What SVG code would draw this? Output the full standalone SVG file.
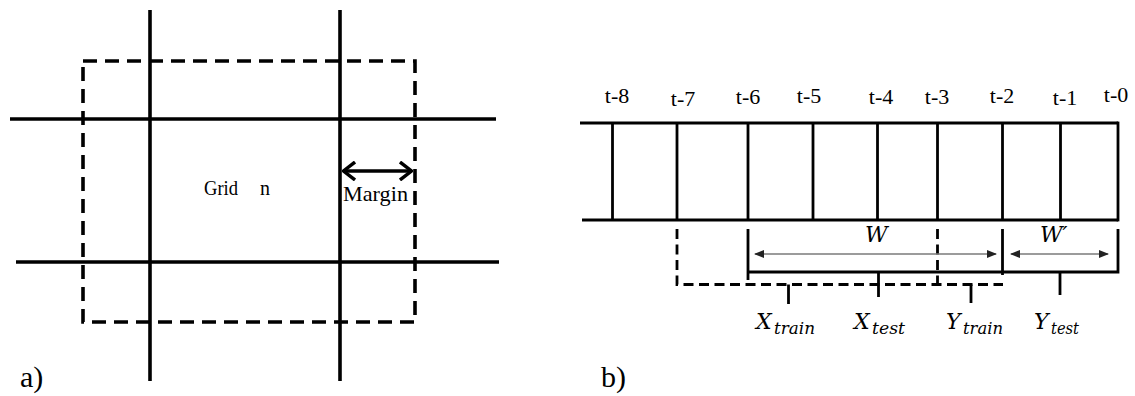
<svg xmlns="http://www.w3.org/2000/svg" width="1135" height="396" viewBox="0 0 1135 396">
<style>
.thick{stroke:#000;stroke-width:3.6;fill:none;stroke-linecap:butt}
.dash{stroke:#000;stroke-width:3.6;fill:none;stroke-dasharray:14 8}
.box{stroke:#000;stroke-width:2.8;fill:none}
.dash2{stroke:#000;stroke-width:2.8;fill:none;stroke-dasharray:10 5.5}
.gray{stroke:#7a7a7a;stroke-width:1.6;fill:none}
text{fill:#000}
</style>
<defs>
<marker id="chev" viewBox="0 0 14 20" refX="13" refY="10" markerWidth="14" markerHeight="20" markerUnits="userSpaceOnUse" orient="auto-start-reverse">
<polyline points="1,1 12.5,10 1,19" fill="none" stroke="#000" stroke-width="3.4"/>
</marker>
<marker id="tri" viewBox="0 0 10 8" refX="9" refY="4" markerWidth="10" markerHeight="8" markerUnits="userSpaceOnUse" orient="auto-start-reverse">
<path d="M0,0 L10,4 L0,8 Z" fill="#222"/>
</marker>
</defs>

<g id="panel-a">
<g id="grid-lines">
<line class="thick" x1="150" y1="10" x2="150" y2="381"/>
<line class="thick" x1="340" y1="10" x2="340" y2="381"/>
<line class="thick" x1="10" y1="119" x2="496" y2="119"/>
<line class="thick" x1="16" y1="262" x2="499" y2="262"/>
</g>
<rect id="margin-box" class="dash" x="83" y="61" width="332" height="261"/>
<g id="grid-n" font-family="'Liberation Serif', 'Times New Roman', serif" font-size="20"><text x="204" y="195" textLength="34" lengthAdjust="spacingAndGlyphs">Grid</text><text x="260" y="195">n</text></g>
<g id="margin-label">
<line class="thick" x1="343" y1="171" x2="412" y2="171" marker-start="url(#chev)" marker-end="url(#chev)"/>
<text x="343" y="201" font-family="'Liberation Serif', 'Times New Roman', serif" font-size="21" textLength="65" lengthAdjust="spacingAndGlyphs">Margin</text>
</g>
<text id="label-a" x="20" y="387" font-family="'Liberation Serif', 'Times New Roman', serif" font-size="30">a)</text>
</g>

<g id="panel-b">
<g id="timeline">
<line class="box" x1="580" y1="123" x2="1118" y2="123"/>
<line class="box" x1="582" y1="220" x2="1118" y2="220"/>
<line class="box" x1="612.5" y1="123" x2="612.5" y2="220"/>
<line class="box" x1="677" y1="123" x2="677" y2="220"/>
<line class="box" x1="748" y1="123" x2="748" y2="220"/>
<line class="box" x1="813" y1="123" x2="813" y2="220"/>
<line class="box" x1="877.5" y1="123" x2="877.5" y2="220"/>
<line class="box" x1="937.5" y1="123" x2="937.5" y2="220"/>
<line class="box" x1="1002.5" y1="123" x2="1002.5" y2="220"/>
<line class="box" x1="1060.5" y1="123" x2="1060.5" y2="220"/>
<line class="box" x1="1118" y1="121.6" x2="1118" y2="221.4"/>
</g>
<g id="time-labels" font-family="'Liberation Serif', 'Times New Roman', serif" font-size="22" text-anchor="middle">
<text x="617" y="103">t-8</text>
<text x="683" y="106">t-7</text>
<text x="748" y="104">t-6</text>
<text x="809" y="103">t-5</text>
<text x="881" y="104">t-4</text>
<text x="937" y="104">t-3</text>
<text x="1002" y="103">t-2</text>
<text x="1065" y="105">t-1</text>
<text x="1116" y="102">t-0</text>
</g>
<g id="connectors">
<path class="dash2" d="M677,229 V284.5 H1003"/>
<line class="dash2" x1="937.5" y1="229" x2="937.5" y2="284.5"/>
<path class="box" d="M748,229 V280 M748,272 H1118 V229"/>
<line class="box" x1="1002.5" y1="229" x2="1002.5" y2="275"/>
<line class="box" x1="788.5" y1="284.5" x2="788.5" y2="304"/>
<line class="box" x1="878.5" y1="272" x2="878.5" y2="297"/>
<line class="box" x1="971" y1="284.5" x2="971" y2="303"/>
<line class="box" x1="1060" y1="272" x2="1060" y2="295"/>
<line class="gray" x1="755" y1="254" x2="996" y2="254" marker-start="url(#tri)" marker-end="url(#tri)"/>
<line class="gray" x1="1011" y1="254" x2="1108" y2="254" marker-start="url(#tri)" marker-end="url(#tri)"/>
</g>
<g id="window-labels" font-family="'DejaVu Serif', 'Liberation Serif', serif" font-style="italic" font-size="22">
<text x="865" y="242">W</text>
<text x="1040" y="242">W′</text>
</g>
<g id="set-labels" font-family="'DejaVu Serif', 'Liberation Serif', serif" font-style="italic">
<g id="x-train"><text x="756" y="329" font-size="22">X</text><text x="774" y="334" font-size="17" textLength="41" lengthAdjust="spacingAndGlyphs">train</text></g>
<g id="x-test"><text x="854" y="329" font-size="22">X</text><text x="872" y="334" font-size="17" textLength="33" lengthAdjust="spacingAndGlyphs">test</text></g>
<g id="y-train"><text x="946" y="329" font-size="22">Y</text><text x="963" y="334" font-size="17" textLength="40" lengthAdjust="spacingAndGlyphs">train</text></g>
<g id="y-test"><text x="1034" y="329" font-size="22">Y</text><text x="1051" y="334" font-size="17" textLength="28" lengthAdjust="spacingAndGlyphs">test</text></g>
</g>
<text id="label-b" x="601" y="387" font-family="'Liberation Serif', 'Times New Roman', serif" font-size="30">b)</text>
</g>
</svg>
